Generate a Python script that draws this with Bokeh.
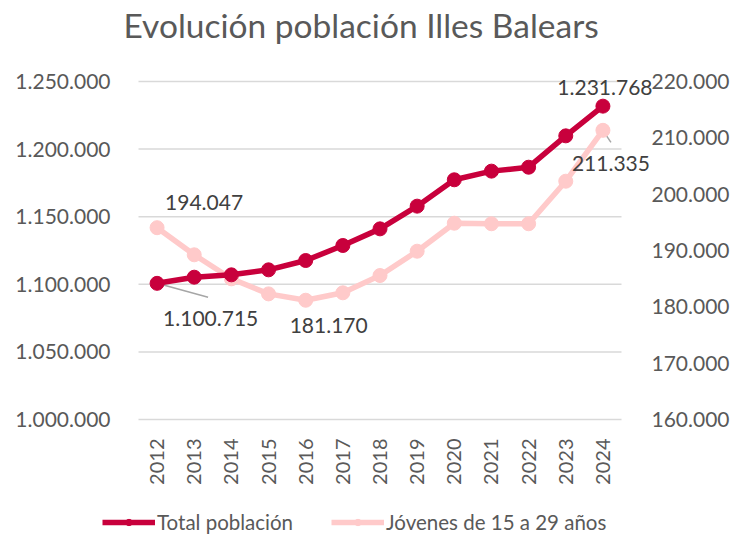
from bokeh.plotting import figure
from bokeh.models import (Range1d, LinearAxis, FixedTicker, CustomJSTickFormatter,
                          Legend, LegendItem, ColumnDataSource, Label)
from bokeh.embed import file_html
from bokeh.resources import INLINE

years = [2012, 2013, 2014, 2015, 2016, 2017, 2018, 2019, 2020, 2021, 2022, 2023, 2024]
total = [1100715, 1105250, 1107000, 1110700, 1117600, 1128700, 1141000, 1157800,
         1177300, 1183700, 1186600, 1209800, 1231768]
jovenes = [194047, 189235, 184975, 182300, 181170, 182490, 185560, 189876,
           194845, 194750, 194750, 202300, 211335]
left_ticks = [1000000, 1050000, 1100000, 1150000, 1200000, 1250000]
right_ticks = [160000, 170000, 180000, 190000, 200000, 210000, 220000]
series_names = ["Total población", "Jóvenes de 15 a 29 años"]
title_text = "Evolución  población Illes Balears"

FONT = "Lato"
C_TOTAL = "#C8003C"
C_JOV = "#FFCACA"
GRAY = "#595959"

W, H = 732, 534
# frame (whole drawing area) and inner plot area, in pixels
FL, FR, FT, FB = 90, 700, 0, 534
PL, PR, PT, PB = 138, 621, 81, 419

XLO, XHI = years[0] - 0.5, years[-1] + 0.5
ppx = (PR - PL) / (XHI - XLO)
xr = Range1d(XLO - (PL - FL) / ppx, XHI + (FR - PR) / ppx)


def yrange(lo, hi):
    ppy = (PB - PT) / (hi - lo)
    return Range1d(lo - (FB - PB) / ppy, hi + (PT - FT) / ppy)


yr = yrange(left_ticks[0], left_ticks[-1])
yr2 = yrange(right_ticks[0], right_ticks[-1])

p = figure(width=W, height=H, output_backend="svg", toolbar_location=None,
           x_range=xr, y_range=yr,
           min_border_left=FL, min_border_right=W - FR, min_border_top=FT,
           min_border_bottom=H - FB)
p.outline_line_color = None
p.xgrid.grid_line_color = None
p.ygrid.grid_line_color = None
p.extra_y_ranges = {"jov": yr2}

fmt = CustomJSTickFormatter(code="""
return Math.round(tick).toString().replace(/\\B(?=(\\d{3})+(?!\\d))/g, ".");
""")

for ax in p.yaxis:
    ax.ticker = FixedTicker(ticks=left_ticks)
    ax.formatter = fmt
ax_r = LinearAxis(y_range_name="jov", ticker=FixedTicker(ticks=right_ticks), formatter=fmt)
p.add_layout(ax_r, "right")

for ax in [p.yaxis[0], ax_r]:
    ax.axis_line_color = None
    ax.major_tick_line_color = None
    ax.minor_tick_line_color = None
    ax.major_label_text_font = FONT
    ax.major_label_text_font_size = "21px"
    ax.major_label_text_color = GRAY
p.yaxis[0].major_label_standoff = -26
ax_r.major_label_standoff = -55

xa = p.xaxis[0]
xa.ticker = FixedTicker(ticks=years)
xa.axis_line_color = None
xa.major_tick_line_color = None
xa.minor_tick_line_color = None
xa.major_label_orientation = 1.5708
xa.major_label_text_font = FONT
xa.major_label_text_font_size = "20px"
xa.major_label_text_color = GRAY
xa.major_label_standoff = -102

# horizontal gridlines across the plot area
p.segment(x0=XLO, x1=XHI, y0=left_ticks, y1=left_ticks, line_color="#D9D9D9",
          line_width=1.5)


def dx(px):
    return px / ppx


def dy(px, r):
    return px * (r.end - r.start) / (FB - FT)


src = ColumnDataSource(dict(x=years, t=total, j=jovenes))

# leader lines for data labels
p.segment(x0=[years[0]], y0=[total[0]], x1=[years[0] + dx(51)], y1=[total[0] - dy(14, yr)],
          line_color="#A6A6A6", line_width=1.5)
p.segment(x0=[years[-1]], y0=[jovenes[-1]], x1=[years[-1] + dx(8)],
          y1=[jovenes[-1] - dy(12, yr2)], line_color="#A6A6A6", line_width=1.5,
          y_range_name="jov")

lj = p.line("x", "j", source=src, line_color=C_JOV, line_width=5.5, y_range_name="jov")
cj = p.scatter("x", "j", source=src, size=14, fill_color=C_JOV, line_color=C_JOV,
               y_range_name="jov")
lt = p.line("x", "t", source=src, line_color=C_TOTAL, line_width=5.5)
ct = p.scatter("x", "t", source=src, size=14, fill_color=C_TOTAL, line_color=C_TOTAL)


def fmt_num(v):
    return f"{v:,}".replace(",", ".")


def add_label(x, y, text, xo, yo, align, rng=None, size="21px", color="#404040",
              baseline="middle"):
    kw = dict(x=x, y=y, text=text, x_offset=xo, y_offset=yo, text_align=align,
              text_baseline=baseline, text_font=FONT, text_font_size=size,
              text_color=color)
    if rng:
        kw["y_range_name"] = rng
    p.add_layout(Label(**kw))


# title
add_label(xr.start, yr.end, title_text, 123 - FL, -24, "left", size="33.5px",
          color=GRAY, baseline="alphabetic")

add_label(years[0], total[0], fmt_num(total[0]), 6, -35, "left")
add_label(years[-1], total[-1], fmt_num(total[-1]), 2, 19, "center")
add_label(years[0], jovenes[0], fmt_num(jovenes[0]), 8, 25, "left", "jov")
add_label(years[4], jovenes[4], fmt_num(jovenes[4]), 23, -25, "center", "jov")
add_label(years[-1], jovenes[-1], fmt_num(jovenes[-1]), 8, -33, "center", "jov")

legend = Legend(items=[LegendItem(label=series_names[0], renderers=[lt, ct]),
                       LegendItem(label=series_names[1], renderers=[lj, cj])],
                orientation="horizontal", location=(102 - FL, 0),
                label_text_font=FONT, label_text_font_size="20.5px",
                label_text_color=GRAY, glyph_width=53, glyph_height=16, label_height=16,
                spacing=38, background_fill_alpha=0, border_line_color=None,
                padding=0, margin=0, label_standoff=2)
p.add_layout(legend, "center")

open("out.html", "w").write(file_html(p, INLINE))
